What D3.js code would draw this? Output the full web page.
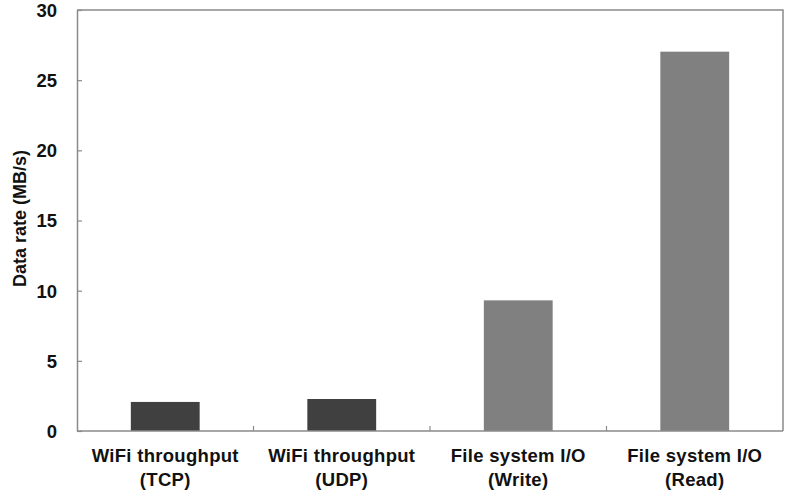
<!DOCTYPE html>
<html>
<head>
<meta charset="utf-8">
<script src="https://cdn.jsdelivr.net/npm/d3@7"></script>
<style>
  html, body { margin: 0; padding: 0; background: #fff; }
  text { font-family: "Liberation Sans", Arial, Helvetica, sans-serif; font-weight: bold; fill: #111; }
</style>
</head>
<body>
<svg id="chart" width="785" height="493"></svg>
<script>
const categories = [["WiFi throughput", "(TCP)"], ["WiFi throughput", "(UDP)"], ["File system I/O", "(Write)"], ["File system I/O", "(Read)"]];
const values = [2.07, 2.28, 9.31, 27.03];
const barColors = ["#404040", "#404040", "#808080", "#808080"];
const yTicks = [0, 5, 10, 15, 20, 25, 30];
const yLabel = "Data rate (MB/s)";

const svg = d3.select("#chart");
const m = { left: 77, right: 2, top: 10, bottom: 62 };
const W = 785, H = 493;
const x0 = m.left, x1 = W - m.right, y0 = H - m.bottom, y1 = m.top;

const idx = categories.map((d, i) => i);
const x = d3.scaleBand().domain(idx).range([x0, x1]).paddingInner(0.61).paddingOuter(0.305);
const xBand = d3.scaleBand().domain(idx).range([x0, x1]).padding(0);
const y = d3.scaleLinear().domain([0, 30]).range([y0, y1]);

const frameColor = "#8a8a8a";

// bars
svg.append("g").selectAll("rect").data(values).join("rect")
  .attr("x", (d, i) => x(i))
  .attr("width", x.bandwidth())
  .attr("y", d => y(d))
  .attr("height", d => y(0) - y(d))
  .attr("fill", (d, i) => barColors[i]);

// frame (top & right)
svg.append("path")
  .attr("d", `M${x0},${y1}H${x1}V${y0}`)
  .attr("fill", "none").attr("stroke", frameColor).attr("stroke-width", 1.5);

// y axis
const yAxis = d3.axisLeft(y).tickValues(yTicks).tickSize(0).tickPadding(20).tickFormat(d3.format("d"));
const gy = svg.append("g").attr("transform", `translate(${x0},0)`).call(yAxis);
gy.select(".domain").attr("stroke", frameColor).attr("stroke-width", 1.5);
gy.selectAll(".tick text").style("font-size", "18.5px").attr("dy", "0.35em");
gy.selectAll(".tick").append("line").attr("x1", 0).attr("x2", 5).attr("stroke", frameColor).attr("stroke-width", 1.2);

// x axis
const gx = svg.append("g").attr("transform", `translate(0,${y0})`);
gx.append("line").attr("x1", x0).attr("x2", x1).attr("stroke", frameColor).attr("stroke-width", 1.5);
gx.selectAll("line.sep").data(idx.slice(1)).join("line").attr("class", "sep")
  .attr("x1", i => xBand(i)).attr("x2", i => xBand(i)).attr("y1", 0).attr("y2", -5)
  .attr("stroke", frameColor).attr("stroke-width", 1.2);
const lab = gx.selectAll("text.cat").data(categories).join("text").attr("class", "cat")
  .attr("text-anchor", "middle")
  .attr("x", (d, i) => xBand(i) + xBand.bandwidth() / 2)
  .style("font-size", "18.5px")
  .style("letter-spacing", "0.3px");
lab.append("tspan").attr("x", (d, i) => xBand(i) + xBand.bandwidth() / 2).attr("y", 31).text(d => d[0]);
lab.append("tspan").attr("x", (d, i) => xBand(i) + xBand.bandwidth() / 2).attr("y", 55).text(d => d[1]);

// y label
svg.append("text")
  .attr("transform", `translate(26,${(y0 + y1) / 2 - 2}) rotate(-90)`)
  .attr("text-anchor", "middle")
  .style("font-size", "18px")
  .text(yLabel);
</script>
</body>
</html>
